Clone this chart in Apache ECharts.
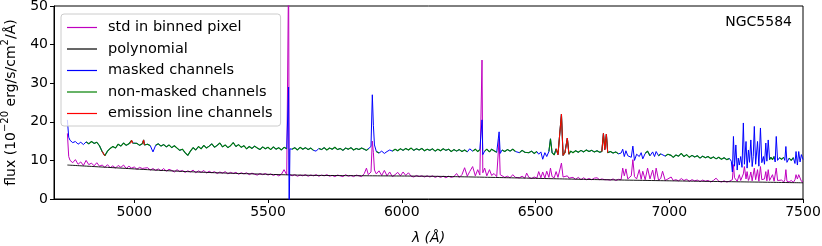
<!DOCTYPE html>
<html>
<head>
<meta charset="utf-8">
<script src="https://cdn.jsdelivr.net/npm/echarts@6/dist/echarts.min.js"></script>
<style>
html,body{margin:0;padding:0;background:#fff;}
#chart{width:822px;height:246px;}
</style>
</head>
<body>
<div id="chart"></div>
<script>
// ---- data ----
const wave = [
4750,4755,4760,4770,4780,4790,4800,4810,4820,4830,
4840,4850,4860,4870,4880,4890,4900,4910,4920,4930,
4940,4950,4960,4970,4980,4986,4990,4994,5000,5010,
5020,5030,5032,5035,5038,5040,5050,5060,5070,5080,
5090,5100,5110,5120,5130,5140,5150,5160,5170,5180,
5190,5200,5210,5220,5230,5240,5250,5260,5270,5280,
5290,5300,5310,5320,5330,5340,5350,5360,5370,5380,
5390,5400,5410,5420,5430,5440,5450,5460,5470,5480,
5490,5500,5510,5520,5530,5540,5550,5560,5570,5575,
5577,5579,5582,5590,5600,5610,5620,5630,5640,5650,
5660,5670,5680,5690,5700,5710,5720,5730,5740,5750,
5760,5770,5780,5790,5800,5810,5820,5830,5840,5850,
5860,5868,5875,5885,5890,5894,5898,5905,5915,5925,
5935,5945,5955,5965,5975,5985,5995,6005,6015,6025,
6035,6045,6055,6065,6075,6085,6095,6105,6115,6125,
6135,6145,6155,6165,6175,6185,6195,6205,6215,6225,
6235,6245,6254,6265,6275,6284,6292,6297,6300,6303,
6310,6318,6328,6336,6345,6355,6360,6364,6368,6375,
6385,6395,6405,6415,6425,6432,6440,6450,6460,6467,
6475,6485,6495,6505,6512,6520,6527,6535,6542,6550,
6556,6562,6570,6577,6584,6590,6597,6603,6610,6619,
6625,6632,6640,6650,6660,6670,6680,6690,6700,6710,
6720,6730,6740,6748,6754,6759,6765,6770,6780,6790,
6800,6810,6820,6826,6832,6838,6845,6852,6858,6864,
6870,6878,6888,6895,6901,6910,6919,6928,6938,6945,
6951,6960,6968,6975,6985,6995,7007,7015,7025,7035,
7045,7055,7065,7075,7085,7095,7105,7115,7125,7135,
7145,7155,7165,7175,7185,7195,7205,7215,7225,7232,
7236,7240,7244,7249,7254,7258,7262,7267,7272,7277,
7281,7287,7291,7296,7300,7305,7310,7314,7318,7323,
7330,7335,7341,7346,7352,7356,7361,7365,7370,7375,
7380,7386,7392,7396,7400,7405,7412,7420,7428,7432,
7436,7440,7448,7456,7464,7470,7474,7479,7484,7489,
7494,7500
];
const flux = [
20.5,16.0,15.2,14.6,14.9,14.2,14.7,14.1,14.8,14.3,
14.9,14.4,14.7,13.8,12.3,11.2,12.4,13.1,13.6,13.2,
14.2,13.7,14.5,13.9,14.3,14.4,15.2,14.5,14.0,14.4,
13.9,14.3,14.4,15.3,14.0,13.6,14.2,13.8,12.2,13.9,
14.3,13.7,14.1,13.5,14.0,13.3,13.8,13.2,12.6,12.9,
12.0,11.3,12.4,13.3,12.7,13.6,13.0,13.9,13.2,13.7,
14.3,13.4,13.9,14.5,13.5,14.0,13.3,13.8,14.6,13.6,
14.1,13.4,13.8,13.0,13.6,13.1,13.7,13.2,12.8,13.5,
13.0,13.4,12.8,13.5,12.9,13.3,12.7,13.4,13.0,13.2,
29.0,-5.0,13.0,12.9,13.3,12.7,13.4,12.9,13.3,12.8,
13.2,12.6,12.4,13.1,12.8,13.3,12.7,13.2,12.9,13.4,
12.8,13.1,12.6,13.2,12.9,13.3,12.7,13.1,12.8,13.2,
12.9,12.6,13.0,13.6,27.0,19.0,14.0,12.3,11.9,12.4,
11.8,12.3,12.7,12.4,12.9,12.5,13.0,12.6,13.1,12.7,
13.2,12.6,13.0,12.7,13.1,12.5,12.9,12.6,13.0,12.4,
12.9,12.5,13.0,12.6,12.9,12.3,12.8,12.4,12.8,12.3,
12.7,12.2,13.0,12.4,12.9,12.3,12.8,12.9,20.5,11.5,
12.4,12.9,12.2,12.9,12.5,12.1,12.6,17.4,11.8,12.7,
12.3,12.8,12.4,12.9,12.3,12.6,12.0,12.6,12.1,12.5,
12.0,12.4,11.8,12.3,11.6,12.2,10.3,12.0,11.0,12.3,
15.6,12.0,11.4,13.0,11.5,12.0,22.0,11.3,12.0,15.8,
11.6,12.4,12.0,12.5,12.1,12.6,12.2,12.7,12.3,12.6,
12.2,12.5,12.1,12.3,17.0,12.8,16.8,12.0,12.3,11.9,
12.2,11.7,11.9,12.9,11.0,12.5,11.2,11.6,10.8,13.7,
10.0,11.6,11.0,12.0,10.4,11.8,12.4,11.2,12.2,11.0,
12.3,11.2,11.7,12.0,11.1,11.6,11.3,10.8,11.4,11.1,
11.8,11.0,11.5,10.8,11.3,10.9,11.2,10.6,11.1,10.7,
11.0,10.5,10.9,10.4,10.8,10.3,10.7,10.2,10.5,9.8,
7.0,16.2,8.5,14.0,7.5,10.6,8.8,11.0,8.2,19.7,
9.0,14.9,8.0,12.7,9.5,15.3,8.4,11.0,18.8,9.0,
14.9,8.5,18.4,9.4,11.0,9.0,14.5,9.8,15.3,10.2,
10.8,10.2,11.0,9.6,16.2,10.0,10.7,10.3,10.8,10.0,
13.6,9.5,10.6,10.0,10.7,9.2,12.3,8.8,12.3,9.6,
11.5,10.2
];
const stdev = [
17.0,11.0,10.0,9.4,10.2,9.0,9.6,8.7,10.0,8.9,
9.3,8.6,9.4,8.5,8.8,8.2,8.9,8.1,8.6,8.0,
8.7,8.2,8.8,7.9,8.5,8.1,8.0,8.4,8.3,7.7,
8.2,7.9,7.8,8.4,8.0,7.6,8.1,7.5,7.9,7.4,
7.8,7.3,7.9,7.2,7.7,7.4,7.0,7.6,7.1,7.4,
6.9,7.3,7.0,7.5,6.8,7.3,6.9,7.4,6.7,7.2,
6.8,7.1,6.6,7.0,6.7,7.1,6.5,6.9,6.6,6.9,
6.4,6.8,6.5,6.8,6.3,6.7,6.4,6.2,6.6,6.3,
6.6,6.2,6.5,6.1,6.4,6.0,6.4,7.6,6.3,6.5,
60.0,6.4,6.2,6.0,6.3,5.9,6.2,6.0,6.3,5.9,
6.2,6.0,6.3,5.9,6.2,6.0,6.3,5.9,6.1,5.8,
6.2,6.0,5.8,6.3,5.9,6.1,5.8,6.2,6.0,5.8,
6.6,8.0,6.3,7.0,15.0,12.0,7.5,6.5,7.3,6.1,
7.4,6.0,7.0,5.8,6.3,6.9,6.0,7.0,6.1,6.8,
5.9,5.7,6.1,5.8,6.0,5.7,6.0,5.7,6.0,5.6,
5.9,5.6,5.9,5.5,5.9,5.6,5.8,6.6,5.6,6.3,
8.1,5.9,7.1,8.4,6.0,7.6,6.2,6.5,36.0,6.8,
8.0,6.0,7.6,6.1,6.6,5.8,6.2,15.5,6.3,5.9,
5.6,5.9,5.5,6.3,5.6,5.8,5.5,5.9,5.4,6.7,
5.6,5.3,5.7,5.4,7.1,5.5,7.0,5.4,7.2,5.6,
8.0,5.8,5.5,7.1,5.6,6.0,9.3,5.7,5.3,6.0,
5.4,5.2,5.6,5.1,5.6,5.0,5.5,5.0,5.3,5.0,
5.4,5.5,5.0,5.2,5.5,5.0,5.3,5.0,4.9,5.2,
4.8,5.1,5.0,8.0,6.0,7.8,5.2,5.4,6.0,10.2,
5.8,5.2,7.6,5.1,7.2,5.0,8.0,5.2,7.5,5.0,
8.0,4.9,5.3,7.2,4.8,5.2,5.7,4.8,5.0,4.7,
5.3,4.8,5.1,4.6,5.0,4.7,4.9,4.5,4.9,4.6,
4.8,4.4,4.8,5.4,4.6,4.4,4.7,4.4,4.6,4.5,
5.0,8.9,5.5,6.0,4.6,5.0,6.3,4.8,5.2,6.5,
8.4,5.2,7.1,4.8,5.5,7.0,4.7,5.0,8.0,5.0,
7.6,4.6,8.4,5.0,4.5,5.2,7.1,4.7,7.6,4.8,
5.0,6.3,4.6,5.0,8.0,4.8,4.5,4.9,4.4,5.0,
7.6,4.6,4.4,4.8,4.3,5.0,6.3,5.2,6.3,5.8,
4.6,4.4
];
const polyWave = [4750,4850,4950,5050,5150,5250,5350,5450,5550,5650,5750,5850,5950,6050,6150,6250,6350,6450,6550,6650,6750,6850,6950,7050,7150,7250,7350,7450,7500];
const polyVal  = [8.8,8.4,8.0,7.6,7.25,6.95,6.7,6.5,6.3,6.15,6.08,6.03,5.98,5.93,5.85,5.72,5.58,5.43,5.28,5.13,5.0,4.88,4.77,4.66,4.56,4.46,4.36,4.25,4.2];
const maskedRanges = [[4745,4812],[5065,5075],[5572,5584],[5675,5685],[5882,5900],[5925,5960],
  [6250,6258],[6295,6306],[6360,6370],[6428,6436],[6508,6515],[6524,6545],
  [6820,6870],[6884,6904],[6934,6955],[6972,6978],[7232,7372],[7394,7406],[7430,7442],[7466,7500]];
const emissionRanges = [[4878,4898],[4984,4996],[5031,5039],[6574,6626],[6745,6772]];
const xTicks = [5000,5500,6000,6500,7000,7500];
const seriesNames = ['std in binned pixel','polynomial','masked channels','non-masked channels','emission line channels'];
const galaxyName = 'NGC5584';

// ---- build series ----
const inR = (w, rs) => rs.some(r => w >= r[0] && w <= r[1]);
const specAll = wave.map((w,i) => [w, flux[i]]);
const specGreen = wave.map((w,i) => [w, inR(w, maskedRanges) ? null : flux[i]]);
const specRed = wave.map((w,i) => [w, inR(w, emissionRanges) ? flux[i] : null]);
const stdData = wave.map((w,i) => [w, stdev[i]]);
const polyData = polyWave.map((w,i) => [w, polyVal[i]]);

const FONT = 'DejaVu Sans';
const chart = echarts.init(document.getElementById('chart'), null, {renderer:'canvas'});
const lineS = (name, data, color, w, z) => ({
  name, type:'line', data, showSymbol:false, symbol:'none', connectNulls:false,
  lineStyle:{color, width:w}, itemStyle:{color}, z, animation:false, clip:true
});
chart.setOption({
  animation:false,
  backgroundColor:'#fff',
  grid:{left:54, right:19, top:6, bottom:47, outerBoundsMode:'none', containLabel:false,
        show:true, borderColor:'#000', borderWidth:1, backgroundColor:'transparent'},
  xAxis:{
    type:'value', min:4700, max:7500,
    name:'λ (Å)', nameLocation:'middle', nameGap:32,
    nameTextStyle:{fontFamily:FONT, fontSize:14, fontStyle:'italic', color:'#000'},
    axisLine:{lineStyle:{color:'#000', width:1}},
    axisTick:{customValues:xTicks, length:4, lineStyle:{color:'#000'}},
    axisLabel:{customValues:xTicks, formatter:v=>String(v), fontFamily:FONT, fontSize:14, color:'#000', margin:6},
    splitLine:{show:false}
  },
  yAxis:{
    type:'value', min:0, max:50, interval:10,
    name:'{a|flux (10}{s|−20}{a| erg/s/cm}{s|2}{a|/Å)}', nameLocation:'middle', nameGap:36, nameRotate:90,
    nameTextStyle:{
      fontFamily:FONT, fontSize:14, color:'#000',
      rich:{
        a:{fontFamily:FONT, fontSize:14, color:'#000', lineHeight:18, verticalAlign:'bottom'},
        s:{fontFamily:FONT, fontSize:10, color:'#000', lineHeight:18, verticalAlign:'top'}
      }
    },
    axisLine:{lineStyle:{color:'#000', width:1}},
    axisTick:{length:4, lineStyle:{color:'#000'}},
    axisLabel:{formatter:v=>String(v), fontFamily:FONT, fontSize:14, color:'#000', margin:6},
    splitLine:{show:false}
  },
  legend:{
    show:true, orient:'vertical', left:61, top:14,
    data:seriesNames,
    icon:'rect',
    itemWidth:30, itemHeight:1.2, itemGap:6.5,
    padding:[6,8,5,6],
    backgroundColor:'rgba(255,255,255,0.8)', borderColor:'#cccccc', borderWidth:1, borderRadius:3,
    textStyle:{fontFamily:FONT, fontSize:14.5, lineHeight:15, color:'#000', padding:[0,0,0,6]}
  },
  graphic:[{
    type:'text', right:30, top:15,
    style:{text:galaxyName, font:'14px "DejaVu Sans"', fill:'#000'}
  }],
  series:[
    lineS(seriesNames[0], stdData, '#bf00bf', 1, 1),
    Object.assign(lineS(seriesNames[1], polyData, '#000000', 0.9, 2), {smooth:true}),
    lineS(seriesNames[2], specAll, '#0000ff', 1, 3),
    lineS(seriesNames[3], specGreen, '#008000', 1.1, 4),
    lineS(seriesNames[4], specRed, '#ff0000', 1, 5)
  ]
});
</script>
</body>
</html>
